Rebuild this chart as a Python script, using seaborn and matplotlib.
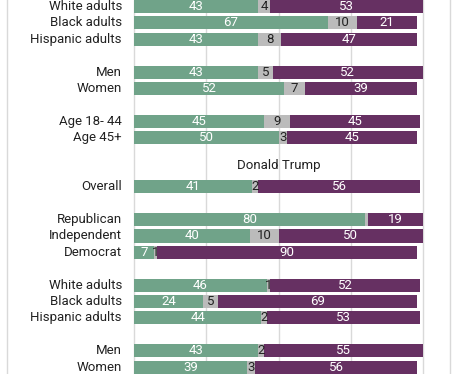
import numpy as np
import pandas as pd
import matplotlib.pyplot as plt
import seaborn as sns

# ------------------------------- #
# Chart values #
# ------------------------------- #
labels = ["White adults", "Black adults", "Hispanic adults",
          "Men", "Women",
          "Age 18- 44", "Age 45+",
          "Overall",
          "Republican", "Independent", "Democrat",
          "White adults", "Black adults", "Hispanic adults",
          "Men", "Women"]
group = [0, 0, 0, 1, 1, 2, 2, 3, 4, 4, 4, 5, 5, 5, 6, 6]
panel = [0, 0, 0, 0, 0, 0, 0, 1, 1, 1, 1, 1, 1, 1, 1, 1]
panel_titles = {1: "Donald Trump"}

green = [43, 67, 43, 43, 52, 45, 50, 41, 80, 40, 7, 46, 24, 44, 43, 39]
gray = [4, 10, 8, 5, 7, 9, 3, 2, 1, 10, 1, 1, 5, 2, 2, 3]
purple = [53, 21, 47, 52, 39, 45, 45, 56, 19, 50, 90, 52, 69, 53, 55, 56]
gray_text = ["4", "10", "8", "5", "7", "9", "3", "2", "", "10", "1", "1", "5", "2", "2", "3"]

GREEN = "#70a389"
GRAY = "#bbbbbb"
PURPLE = "#663062"

df = pd.DataFrame({"label": labels, "group": group, "panel": panel,
                   "green": green, "gray": gray, "purple": purple})
# one empty row between groups, one more before a new panel title
df["row"] = df.index + df["group"] + df["panel"]
df["g_end"] = df["green"]
df["y_end"] = df["green"] + df["gray"]
df["total"] = df["green"] + df["gray"] + df["purple"]

sns.set_style("white")
plt.rcParams["font.family"] = ["Roboto", "DejaVu Sans"]

fig = plt.figure(figsize=(4.57, 3.74), dpi=100)
ax = fig.add_axes([6.5 / 457, 0, 443 / 457, 1])

# stacked bars: draw back to front
for col, c in [("total", PURPLE), ("y_end", GRAY), ("g_end", GREEN)]:
    sns.barplot(data=df, x=col, y="row", orient="h", native_scale=True,
                color=c, saturation=1, errorbar=None, linewidth=0, ax=ax)

px = 2.89  # pixels per percent point
ax.set_xlim((6.5 - 134) / px, (449.5 - 134) / px)
pitch = 16.39
ax.set_ylim((374 - 6.5) / pitch, -6.5 / pitch)

for v in [0, 25, 50, 75, 100]:
    ax.axvline(v, color="#d9d9d9", lw=1, zorder=0)
ax.set_axisbelow(True)

for s in ["top", "bottom"]:
    ax.spines[s].set_visible(False)
for s in ["left", "right"]:
    ax.spines[s].set_color("#d9d9d9")
    ax.spines[s].set_linewidth(1)
ax.set_xticks([])
ax.set_yticks([])
ax.set_xlabel("")
ax.set_ylabel("")

# labels
for _, r in df.iterrows():
    y = r["row"]
    ax.text(-12 / px, y, r["label"], ha="right", va="center",
            fontsize=9.5, color="#222222")
    ax.text(r["green"] / 2, y, str(r["green"]), ha="center", va="center",
            fontsize=9.5, color="white")
    ax.text(r["green"] + r["gray"] / 2, y, gray_text[_], ha="center",
            va="center", fontsize=9.5, color="#222222")
    ax.text(r["y_end"] + r["purple"] / 2, y, str(r["purple"]), ha="center",
            va="center", fontsize=9.5, color="white")

for p, t in panel_titles.items():
    first = df.loc[df["panel"] == p, "row"].min()
    ax.text(50, first - 1.3, t, ha="center", va="center",
            fontsize=9.5, color="#222222")

plt.savefig("out.png", dpi=100)
